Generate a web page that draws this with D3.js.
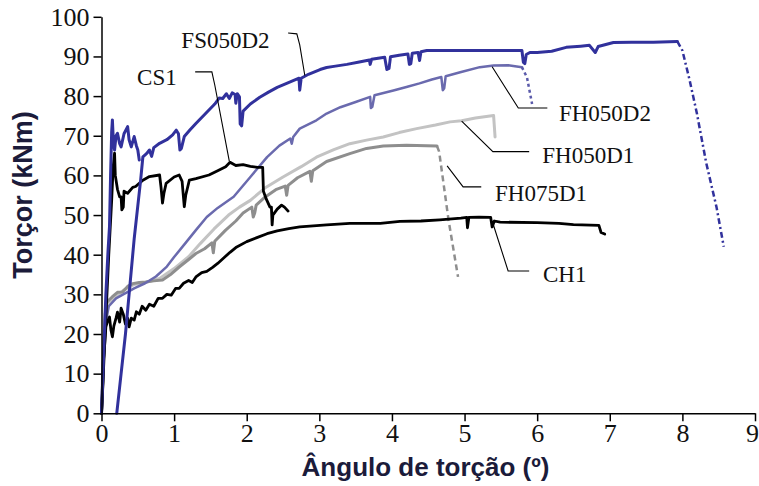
<!DOCTYPE html>
<html>
<head>
<meta charset="utf-8">
<script src="https://cdn.jsdelivr.net/npm/d3@7"></script>
<style>
  html, body { margin: 0; padding: 0; background: #fff; }
  svg { display: block; }
  .tick text { font-family: "Liberation Serif", "Times New Roman", serif; }
</style>
</head>
<body>
<svg id="chart" width="759" height="486"></svg>
<script>
// Torque (kNm) against twist angle (degrees) for six beams.
const xTickValues = [0, 1, 2, 3, 4, 5, 6, 7, 8, 9];
const yTickValues = [0, 10, 20, 30, 40, 50, 60, 70, 80, 90, 100];

// FS050D2: first loading, then (after null) reloading branch up to the peak
const fs050d2 = [
  [0,0],[0.03,15],[0.06,30],[0.09,41],[0.11,47],[0.125,60],[0.14,71],[0.15,74],[0.165,68],[0.18,66.4],
  [0.2,70],[0.22,70.6],[0.25,68],[0.27,67.2],[0.31,70.5],[0.36,72.3],[0.38,69],[0.41,67.2],[0.45,69.8],
  [0.48,67.5],[0.5,66.4],[0.52,63.9],
  null,
  [0.21,0],[0.27,10],[0.33,20],[0.39,32],[0.45,44],[0.54,59],[0.57,64.7],[0.62,65.5],[0.66,66.4],
  [0.69,64.8],[0.72,67],[0.8,68.1],[0.9,69],[0.98,70.2],[1.03,71.4],[1.06,70.5],[1.08,66.4],[1.1,66.8],
  [1.14,69.8],[1.22,71.5],[1.3,73.1],[1.4,75],[1.48,76.5],[1.56,78],[1.62,79.5],[1.67,79.4],[1.72,80.6],
  [1.76,79.4],[1.8,80.8],[1.84,80.4],[1.85,78.2],[1.87,80.6],[1.9,79.8],[1.91,73],[1.93,72.5],[1.95,76.2],
  [2.05,78],[2.18,79.7],[2.3,81],[2.42,82.2],[2.55,83.2],[2.68,84.2],[2.72,84.5],[2.73,81.5],[2.75,84.5],
  [2.85,85.5],[3.01,86.7],[3.1,87.2],[3.2,87.5],[3.38,88],[3.55,88.6],[3.69,89.1],[3.7,88],[3.72,89.3],
  [3.9,89.8],[3.93,86.7],[3.96,87],[3.98,89.9],[4.1,90.3],[4.22,90.6],[4.24,88],[4.26,88.2],[4.28,90.8],
  [4.36,91],[4.38,89],[4.4,91.2],[4.48,91.5],[5.0,91.5],[5.5,91.5],[5.79,91.5],[5.81,88.5],[5.83,88.2],
  [5.85,90.5],[5.9,91],[6.0,91],[6.2,91.3],[6.4,92.3],[6.6,92.6],[6.72,92.8],[6.8,91],[6.84,92.5],
  [7.05,93.5],[7.3,93.6],[7.6,93.6],[7.93,93.8]
];
const fs050d2Tail = [[7.93,93.8],[8.0,91.5],[8.1,84],[8.2,75.6],[8.33,63],[8.47,52],[8.57,42]];

const fh050d2 = [
  [0,0],[0.02,12],[0.05,22],[0.1,27],[0.2,29],[0.3,30],[0.45,31.5],[0.6,32.8],[0.75,34.5],[0.9,37],
  [1.0,39.4],[1.15,42.8],[1.3,46.2],[1.45,49.5],[1.6,51.8],[1.82,54.6],[2.05,59.6],[2.28,64.6],
  [2.45,67.5],[2.6,69.3],[2.62,68],[2.64,69.7],[2.73,71.8],[2.96,73.9],[3.1,75.6],[3.29,77.2],
  [3.5,78.5],[3.7,79.8],[3.71,77],[3.73,77.3],[3.76,80.2],[4.02,81.4],[4.2,82.3],[4.38,83.2],
  [4.55,84.2],[4.68,84.8],[4.7,81.5],[4.72,82],[4.74,85],[4.94,86],[5.21,87.3],[5.4,87.7],
  [5.6,87.8],[5.79,87.3]
];
const fh050d2Tail = [[5.79,87.3],[5.86,84.7],[5.93,78]];

const fh050d1 = [
  [0,0],[0.02,14],[0.05,25],[0.1,28],[0.2,29.5],[0.3,31],[0.45,32.5],[0.6,33],[0.8,34],[1.0,36.5],
  [1.2,39.5],[1.36,42.8],[1.55,46.5],[1.75,50],[1.9,52],[2.05,53.7],[2.25,56.8],[2.5,59.6],[2.75,62.2],
  [2.96,64.6],[3.2,66.5],[3.42,68],[3.65,68.9],[3.88,69.7],[4.1,70.8],[4.34,71.8],[4.6,72.7],
  [4.8,73.5],[4.96,73.8],[5.15,74.5],[5.4,75.1],[5.42,69.7]
];

const fh075d1 = [
  [0,0],[0.02,10],[0.04,20],[0.06,27.7],[0.1,28.5],[0.15,29.4],[0.22,30.5],[0.29,30.6],[0.36,32],
  [0.43,32.7],[0.52,33],[0.61,33.1],[0.72,33.4],[0.84,33.6],[0.95,35],[1.07,36.9],[1.2,38.8],
  [1.3,40.3],[1.42,41.5],[1.52,43],[1.54,40.5],[1.56,43.4],[1.71,46.2],[1.85,48.5],[1.95,50.5],
  [2.07,52],[2.09,49.5],[2.11,50.5],[2.13,52.5],[2.25,54.5],[2.4,56.4],[2.53,57.3],[2.55,55],
  [2.57,57.5],[2.7,59.4],[2.87,61],[2.89,58.5],[2.91,61.2],[3.1,63.5],[3.42,65.5],[3.65,66.8],
  [3.88,67.4],[4.2,67.6],[4.62,67.4]
];
const fh075d1Tail = [[4.62,67.4],[4.65,66],[4.78,48.7],[4.91,34.4]];

const cs1 = [
  [0,0],[0.03,12],[0.07,28],[0.1,40],[0.14,53.7],[0.16,62],[0.18,65.6],[0.19,60],[0.22,56.5],
  [0.25,54.6],[0.27,54.6],[0.28,51.3],[0.3,52],[0.31,56],[0.36,55.5],[0.43,57],[0.47,57.2],
  [0.57,58.8],[0.66,59.7],[0.8,60.1],[0.82,57],[0.84,53],[0.86,55.5],[0.89,58],[1.0,59.6],
  [1.07,60.1],[1.11,58.5],[1.14,52.1],[1.16,55],[1.21,58.8],[1.3,59.2],[1.48,60.1],[1.6,61.2],
  [1.71,62.2],[1.77,63.3],[1.85,62.5],[1.95,62.7],[2.05,62.3],[2.15,62],[2.22,62],[2.23,56],
  [2.27,54],[2.32,52],[2.34,52],[2.35,47.5],[2.36,50],[2.42,51.5],[2.48,52.5],[2.52,52],[2.57,51]
];

const ch1 = [
  [0,0],[0.01,3],[0.02,8],[0.03,14],[0.05,19],[0.06,21.8],[0.08,23],[0.11,24.3],[0.13,21],
  [0.15,19.3],[0.17,22],[0.2,24],[0.22,25.5],[0.25,23],[0.27,26.5],[0.3,25],[0.33,22.5],[0.36,24],
  [0.38,21.8],[0.41,24],[0.45,23.5],[0.48,25.6],[0.52,25],[0.56,27],[0.61,26],[0.66,27.5],
  [0.72,27],[0.78,29],[0.84,29],[0.9,30],[0.96,29.8],[1.02,31.5],[1.07,31.5],[1.13,32.8],
  [1.2,33.5],[1.25,33],[1.3,34.4],[1.38,35.5],[1.45,35.8],[1.53,36.8],[1.6,37.8],[1.69,39.3],
  [1.77,40.6],[1.85,41.8],[2.0,43.3],[2.14,44.3],[2.28,45.3],[2.42,46],[2.58,46.6],[2.73,47],
  [2.87,47.2],[3.1,47.5],[3.42,47.9],[3.84,47.9],[4.11,48.4],[4.4,48.5],[4.66,48.8],[4.95,49.2],
  [5.03,49.4],[5.04,46.8],[5.06,49.4],[5.2,49.5],[5.36,49.4],[5.38,47],[5.41,48.5],[5.49,48.2],
  [6.0,48.1],[6.3,47.9],[6.5,47.6],[6.85,47.4],[6.88,45.6],[6.93,45.2]
];

// series labels: text, anchor (data units) and leader line (data units)
const seriesLabels = ["FS050D2", "CS1", "FH050D2", "FH050D1", "FH075D1", "CH1"];
const labelAnchors = [[1.10, 92.1], [0.49, 82.8], [6.30, 73.7], [6.07, 63.1], [5.42, 53.5], [6.08, 33.0]];
const leaderLines = [
  [[2.57, 95.9], [2.69, 95.7], [2.73, 92.9], [2.80, 85.2]],
  [[1.29, 86.1], [1.52, 86.1], [1.56, 82.8], [1.76, 63.6]],
  [[5.38, 87.4], [5.74, 77.0], [6.14, 77.0]],
  [[4.96, 73.7], [5.39, 66.0], [5.89, 66.0]],
  [[4.76, 62.4], [4.98, 57.1], [5.23, 57.1]],
  [[5.38, 48.5], [5.60, 35.9], [5.89, 35.9]]
];

const svg = d3.select("#chart");
const x = d3.scaleLinear().domain([0, 9]).range([101.5, 755]);
const y = d3.scaleLinear().domain([0, 100]).range([413.3, 16.8]);

const line = d3.line()
  .defined(d => d !== null)
  .x(d => x(d[0]))
  .y(d => y(d[1]));

function drawSeries(data, color, width, dash) {
  svg.append("path")
    .datum(data)
    .attr("d", line)
    .attr("fill", "none")
    .attr("stroke", color)
    .attr("stroke-width", width)
    .attr("stroke-linejoin", "round")
    .attr("stroke-linecap", dash ? "butt" : "round")
    .attr("stroke-dasharray", dash || null);
}

// curves, back to front
drawSeries(fh050d1, "#c3c3c3", 3);
drawSeries(fh075d1, "#8e8e8e", 3);
drawSeries(fh075d1Tail, "#8e8e8e", 2.5, "6,4");
drawSeries(fh050d2, "#6a6aae", 2.5);
drawSeries(fh050d2Tail, "#5a5aaa", 2.5, "3,3");
drawSeries(ch1, "#000", 2.8);
drawSeries(cs1, "#000", 2.8);
drawSeries(fs050d2, "#31319c", 3);
drawSeries(fs050d2Tail, "#31319c", 2.5, "6,3,2,3");

// axes
const yAxis = d3.axisLeft(y).tickValues(yTickValues).tickSize(8).tickSizeOuter(0).tickPadding(4);
const xAxis = d3.axisBottom(x).tickValues(xTickValues).tickSize(8).tickSizeOuter(0).tickPadding(2);

const gy = svg.append("g").attr("transform", `translate(${x(0)},0)`).call(yAxis);
const gx = svg.append("g").attr("transform", `translate(0,${y(0)})`).call(xAxis);
[gx, gy].forEach(g => {
  g.selectAll("path, line").attr("stroke", "#000").attr("stroke-width", 1.5);
  g.selectAll("text").attr("font-size", 26).attr("fill", "#111");
});
// the last x label sits at the right edge of the page: keep it inside
gx.selectAll(".tick text").filter(d => d === 9)
  .attr("text-anchor", "end")
  .attr("x", 3.5);

// leader lines and labels
const leader = d3.line().x(d => x(d[0])).y(d => y(d[1]));
svg.append("g").selectAll("path").data(leaderLines).join("path")
  .attr("d", leader)
  .attr("fill", "none")
  .attr("stroke", "#000")
  .attr("stroke-width", 1.1);

svg.append("g").selectAll("text").data(seriesLabels).join("text")
  .attr("x", (d, i) => x(labelAnchors[i][0]))
  .attr("y", (d, i) => y(labelAnchors[i][1]))
  .attr("font-family", "'Liberation Serif', 'Times New Roman', serif")
  .attr("font-size", 23)
  .attr("fill", "#111")
  .text(d => d);

// axis titles
svg.append("text")
  .attr("x", 425.5).attr("y", 476)
  .attr("text-anchor", "middle")
  .attr("font-family", "'Liberation Sans', Arial, sans-serif")
  .attr("font-weight", "bold")
  .attr("font-size", 26)
  .attr("fill", "#1b1b3a")
  .text("Ângulo de torção (º)");

svg.append("text")
  .attr("transform", "translate(32,195) rotate(-90)")
  .attr("text-anchor", "middle")
  .attr("font-family", "'Liberation Sans', Arial, sans-serif")
  .attr("font-weight", "bold")
  .attr("font-size", 27)
  .attr("fill", "#1b1b3a")
  .text("Torçor (kNm)");
</script>
</body>
</html>
